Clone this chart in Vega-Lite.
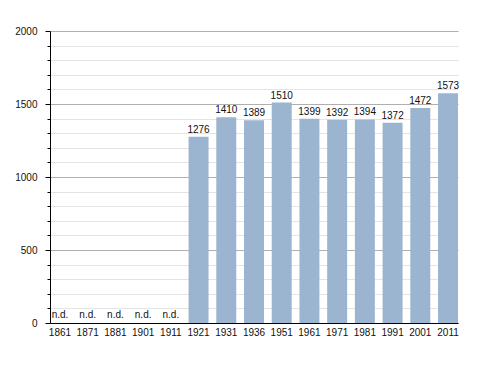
{
  "$schema": "https://vega.github.io/schema/vega-lite/v6.json",
  "width": 408,
  "height": 292,
  "autosize": "none",
  "padding": {"left": 50, "top": 31, "right": 30, "bottom": 50},
  "background": "white",
  "config": {
    "view": {"stroke": null},
    "font": "Liberation Sans",
    "axisY": {
      "labelExpr": "datum.value % 500 === 0 ? datum.value : ''",
      "grid": true,
      "gridColor": {"condition": {"test": "datum.value % 500 === 0", "value": "#b0b0b0"}, "value": "#e4e4e4"},
      "tickSize": {"condition": {"test": "datum.value % 500 === 0", "value": 5}, "value": 3},
      "tickColor": "#000000",
      "domainColor": "#000000",
      "labelColor": "#111111",
      "labelFontSize": 10,
      "labelPadding": 8
    }
  },
  "data": {"values": [
    {"year": "1861", "pop": null},
    {"year": "1871", "pop": null},
    {"year": "1881", "pop": null},
    {"year": "1901", "pop": null},
    {"year": "1911", "pop": null},
    {"year": "1921", "pop": 1276},
    {"year": "1931", "pop": 1410},
    {"year": "1936", "pop": 1389},
    {"year": "1951", "pop": 1510},
    {"year": "1961", "pop": 1399},
    {"year": "1971", "pop": 1392},
    {"year": "1981", "pop": 1394},
    {"year": "1991", "pop": 1372},
    {"year": "2001", "pop": 1472},
    {"year": "2011", "pop": 1573}
  ]},
  "encoding": {
    "x": {
      "field": "year", "type": "nominal",
      "sort": ["1861","1871","1881","1901","1911","1921","1931","1936","1951","1961","1971","1981","1991","2001","2011"],
      "scale": {"domain": ["1861","1871","1881","1901","1911","1921","1931","1936","1951","1961","1971","1981","1991","2001","2011"], "paddingInner": 0.28, "paddingOuter": 0},
      "axis": {"title": null, "labelAngle": 0, "ticks": false, "domainColor": "#000000", "labelColor": "#111111", "labelFontSize": 10, "labelPadding": 4, "labelBaseline": "top"}
    }
  },
  "layer": [
    {
      "mark": {"type": "bar", "color": "#9bb4d0"},
      "encoding": {
        "y": {"field": "pop", "type": "quantitative", "title": null, "scale": {"domain": [0, 2000], "nice": false},
          "axis": {"values": [0,100,200,300,400,500,600,700,800,900,1000,1100,1200,1300,1400,1500,1600,1700,1800,1900,2000]}}
      }
    },
    {
      "mark": {"type": "text", "dy": -4, "baseline": "alphabetic", "fontSize": 10, "color": "#111111"},
      "encoding": {
        "y": {"field": "pop", "type": "quantitative", "title": null,
          "axis": {"values": [0,100,200,300,400,500,600,700,800,900,1000,1100,1200,1300,1400,1500,1600,1700,1800,1900,2000]}},
        "text": {"field": "pop", "type": "quantitative", "format": "d"}
      }
    },
    {
      "transform": [{"filter": "datum.pop == null"}],
      "mark": {"type": "text", "dy": -5, "baseline": "alphabetic", "fontSize": 10, "color": "#111111"},
      "encoding": {
        "y": {"datum": 0, "type": "quantitative", "title": null,
          "axis": {"values": [0,100,200,300,400,500,600,700,800,900,1000,1100,1200,1300,1400,1500,1600,1700,1800,1900,2000]}},
        "text": {"value": "n.d."}
      }
    }
  ]
}
